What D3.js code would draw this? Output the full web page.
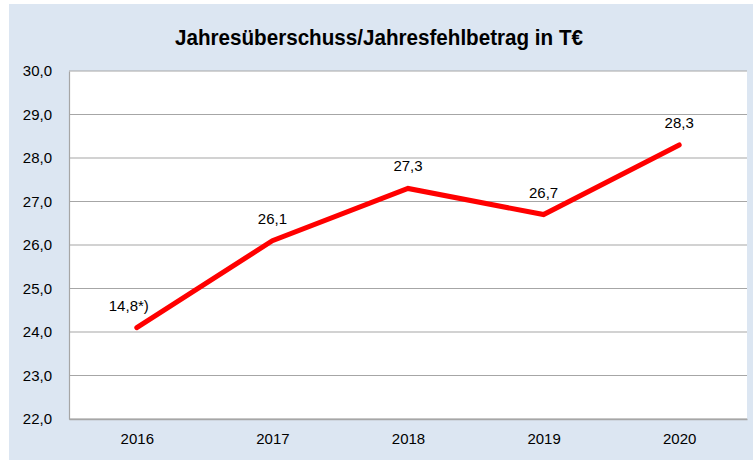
<!DOCTYPE html>
<html>
<head>
<meta charset="utf-8">
<script src="https://cdn.jsdelivr.net/npm/d3@7"></script>
<style>
  body { margin: 0; background: #fff; }
  text { font-family: "Liberation Sans", Arial, sans-serif; }
</style>
</head>
<body>
<div id="chart"></div>
<script>
const years = ["2016", "2017", "2018", "2019", "2020"];
const values = [24.1, 26.1, 27.3, 26.7, 28.3];
const valueLabels = ["14,8*)", "26,1", "27,3", "26,7", "28,3"];
const yTicks = [22, 23, 24, 25, 26, 27, 28, 29, 30];
const title = "Jahresüberschuss/Jahresfehlbetrag in T€";

const width = 753;
const height = 461;
const margin = { top: 71, right: 6, bottom: 42, left: 69 };

const svg = d3.select("#chart").append("svg")
  .attr("width", width)
  .attr("height", height);

// chart background
svg.append("rect")
  .attr("x", 9).attr("y", 4)
  .attr("width", width - 9).attr("height", 456)
  .attr("fill", "#dce6f2");

const x = d3.scalePoint()
  .domain(years)
  .range([margin.left, width - margin.right])
  .padding(0.5);

const y = d3.scaleLinear()
  .domain([22, 30])
  .range([height - margin.bottom, margin.top]);

// plot area
svg.append("rect")
  .attr("x", margin.left).attr("y", margin.top)
  .attr("width", width - margin.left - margin.right)
  .attr("height", height - margin.top - margin.bottom)
  .attr("fill", "#fff");

// gridlines
svg.append("g")
  .selectAll("line")
  .data(yTicks)
  .join("line")
  .attr("x1", margin.left)
  .attr("x2", width - margin.right)
  .attr("y1", d => y(d))
  .attr("y2", d => y(d))
  .attr("stroke", "#a6a6a6")
  .attr("stroke-width", 1.2);

// y axis
const yAxis = svg.append("g")
  .attr("transform", `translate(${margin.left},0)`)
  .call(d3.axisLeft(y).tickValues(yTicks).tickSize(0).tickPadding(17)
    .tickFormat(d => d3.format(".1f")(d).replace(".", ",")));
yAxis.select(".domain").attr("stroke", "#a6a6a6").attr("stroke-width", 1.2);
yAxis.selectAll("text").attr("font-size", 15).attr("fill", "#000");

// x axis
const xAxis = svg.append("g")
  .attr("transform", `translate(0,${height - margin.bottom})`)
  .call(d3.axisBottom(x).tickSize(0).tickPadding(14));
xAxis.select(".domain").attr("stroke", "#a6a6a6").attr("stroke-width", 1.5);
xAxis.selectAll("text").attr("font-size", 15).attr("fill", "#000");

// line
const line = d3.line()
  .x((d, i) => x(years[i]))
  .y(d => y(d));

svg.append("path")
  .datum(values)
  .attr("d", line)
  .attr("fill", "none")
  .attr("stroke", "#ff0000")
  .attr("stroke-width", 5)
  .attr("stroke-linecap", "round")
  .attr("stroke-linejoin", "miter");

// data labels
svg.append("g")
  .selectAll("text")
  .data(values)
  .join("text")
  .attr("x", (d, i) => x(years[i]) - (i === 0 ? 8 : 0))
  .attr("y", d => y(d) - 17)
  .attr("text-anchor", "middle")
  .attr("font-size", 15)
  .attr("fill", "#000")
  .text((d, i) => valueLabels[i]);

// title
svg.append("text")
  .attr("x", 379)
  .attr("y", 45)
  .attr("text-anchor", "middle")
  .attr("font-size", 22)
  .attr("font-weight", "bold")
  .attr("textLength", 408)
  .attr("lengthAdjust", "spacingAndGlyphs")
  .attr("fill", "#000")
  .text(title);
</script>
</body>
</html>
